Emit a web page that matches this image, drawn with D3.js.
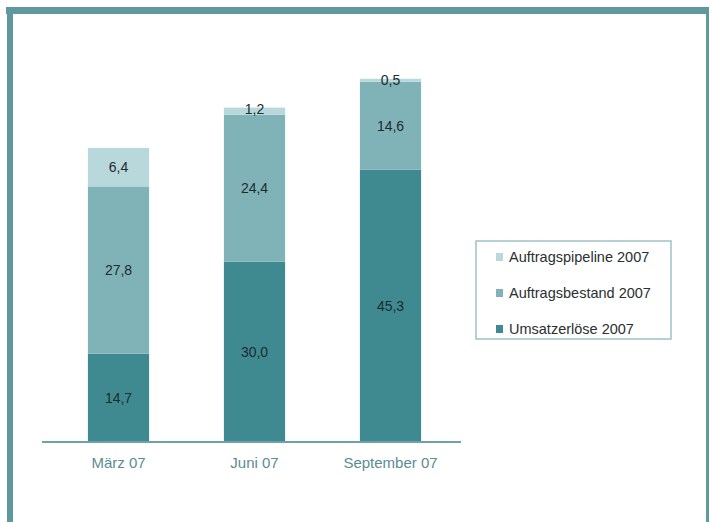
<!DOCTYPE html>
<html>
<head>
<meta charset="utf-8">
<script src="https://cdn.jsdelivr.net/npm/d3@7"></script>
<style>
  body { margin: 0; background: #fff; }
  svg { display: block; font-family: "Liberation Sans", Arial, sans-serif; }
</style>
</head>
<body>
<svg width="709" height="522"></svg>
<script>
const categories = ['März 07', 'Juni 07', 'September 07'];
const seriesNames = ['Umsatzerlöse 2007', 'Auftragsbestand 2007', 'Auftragspipeline 2007'];
const umsatz = [14.7, 30.0, 45.3];
const bestand = [27.8, 24.4, 14.6];
const pipeline = [6.4, 1.2, 0.5];
const colors = ['#3f8a90', '#80b3b8', '#b9d8db'];

const svg = d3.select('svg');

// frame
svg.append('rect').attr('x', 6).attr('y', 7).attr('width', 703).attr('height', 7).attr('fill', '#5f989d');
svg.append('rect').attr('x', 7).attr('y', 7).attr('width', 6).attr('height', 515).attr('fill', '#5f989d');
svg.append('rect').attr('x', 706).attr('y', 7).attr('width', 3).attr('height', 515).attr('fill', '#5f989d');

const table = categories.map((c, i) => ({
    cat: c,
    [seriesNames[0]]: umsatz[i],
    [seriesNames[1]]: bestand[i],
    [seriesNames[2]]: pipeline[i]
}));
const stacked = d3.stack().keys(seriesNames)(table);

const x = d3.scaleBand().domain(categories).range([50.5, 458.5])
    .paddingInner(0.55).paddingOuter(0.275);
const y = d3.scaleLinear().domain([0, 70]).range([442, 21]);
const color = d3.scaleOrdinal().domain(seriesNames).range(colors);

const fmt = v => d3.format('.1f')(v).replace('.', ',');

const layers = svg.append('g').selectAll('g').data(stacked)
    .enter().append('g')
    .attr('fill', d => color(d.key));

layers.selectAll('rect').data(d => d)
    .enter().append('rect')
    .attr('x', d => x(d.data.cat))
    .attr('y', d => y(d[1]))
    .attr('width', x.bandwidth())
    .attr('height', d => y(d[0]) - y(d[1]));

layers.selectAll('text').data(d => d)
    .enter().append('text')
    .attr('x', d => x(d.data.cat) + x.bandwidth() / 2)
    .attr('y', d => {
        const h = y(d[0]) - y(d[1]);
        return h < 14 ? y(d[1]) + 1 : (y(d[0]) + y(d[1])) / 2;
    })
    .attr('dy', '0.35em')
    .attr('text-anchor', 'middle')
    .attr('font-size', 14)
    .attr('fill', '#1c2b2f')
    .text(d => fmt(d[1] - d[0]));

// axis
svg.append('line').attr('x1', 42).attr('x2', 461).attr('y1', 442).attr('y2', 442)
    .attr('stroke', '#6ea2a7').attr('stroke-width', 2);

const xAxis = svg.append('g').attr('transform', 'translate(0,443)')
    .call(d3.axisBottom(x).tickSize(0).tickPadding(14));
xAxis.select('.domain').remove();
xAxis.selectAll('text').attr('font-size', 15).attr('fill', '#5a8d92')
    .attr('font-family', '"Liberation Sans", Arial, sans-serif');

// legend
const legend = svg.append('g').attr('transform', 'translate(476,241)');
legend.append('rect').attr('width', 195).attr('height', 98)
    .attr('fill', '#fff').attr('stroke', '#9fc2c5').attr('stroke-width', 1.5);
const items = legend.selectAll('g').data(seriesNames.slice().reverse())
    .enter().append('g')
    .attr('transform', (d, i) => `translate(20,${16 + i * 36})`);
items.append('rect').attr('x', 0).attr('y', -4).attr('width', 7).attr('height', 8)
    .attr('fill', d => color(d));
items.append('text').attr('x', 13).attr('dy', '0.35em')
    .attr('font-size', 14.5).attr('fill', '#2a2f31').text(d => d);
</script>
</body>
</html>
